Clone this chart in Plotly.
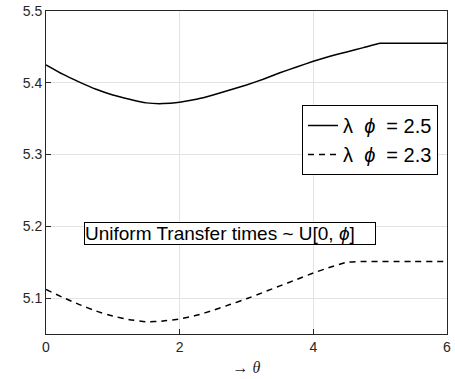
import plotly.graph_objects as go

# theta grid and the two curves
theta = [0, 0.25, 0.5, 0.75, 1.0, 1.25, 1.5, 1.75, 2.0, 2.25, 2.5, 2.75, 3.0,
         3.25, 3.5, 3.75, 4.0, 4.25, 4.5, 4.75, 5.0, 5.25, 5.5, 6.0]
cost_25 = [5.425, 5.412, 5.401, 5.391, 5.383, 5.377, 5.372, 5.371, 5.373, 5.377,
           5.383, 5.390, 5.397, 5.405, 5.414, 5.422, 5.430, 5.437, 5.443, 5.449,
           5.455, 5.455, 5.455, 5.455]
cost_23 = [5.112, 5.101, 5.091, 5.082, 5.075, 5.070, 5.067, 5.068, 5.071, 5.076,
           5.083, 5.091, 5.099, 5.108, 5.117, 5.126, 5.135, 5.143, 5.150, 5.151,
           5.151, 5.151, 5.151, 5.151]
sp = "\u00a0"
names = [f"\u03bb{sp*2}<i>\u03d5</i>{sp*2}={sp}2.5", f"\u03bb{sp*2}<i>\u03d5</i>{sp*2}={sp}2.3"]
x_ticks = [0, 2, 4, 6]
y_ticks = [5.1, 5.2, 5.3, 5.4, 5.5]

axis_col = "#262626"
grid_col = "#e3e3e3"

fig = go.Figure()
fig.add_trace(go.Scatter(x=theta, y=cost_25, mode="lines", name=names[0],
                         line=dict(color="black", width=1.5, shape="spline", smoothing=0.4)))
fig.add_trace(go.Scatter(x=theta, y=cost_23, mode="lines", name=names[1],
                         line=dict(color="black", width=1.5, dash="6px,5px",
                                   shape="spline", smoothing=0.4)))

axis_common = dict(showline=True, linecolor=axis_col, linewidth=1, mirror=True,
                   ticks="inside", ticklen=5, tickcolor=axis_col, automargin=False,
                   showgrid=True, gridcolor=grid_col, gridwidth=1, zeroline=False,
                   ticklabeloverflow="allow",
                   tickfont=dict(family="Liberation Sans, Arial", size=14, color=axis_col))

fig.update_xaxes(range=[0, 6], tickvals=x_ticks,
                 title=dict(text="\u2192 <i>\u03b8</i>", standoff=8,
                            font=dict(family="Liberation Serif, Times New Roman", size=16,
                                      color=axis_col)),
                 **axis_common)
fig.update_yaxes(range=[5.05, 5.5], tickvals=y_ticks, ticktext=[f"{v:.1f}" for v in y_ticks],
                 **axis_common)

fig.add_annotation(x=(84 - 46) / 401, y=(334 - 222) / 323, xref="paper", yref="paper",
                   xanchor="left", yanchor="top", width=290, align="left",
                   text="Uniform Transfer times ~ U[0, <i>\u03d5</i>]", showarrow=False,
                   font=dict(family="Liberation Sans, Arial", size=19, color="black"),
                   bordercolor="black", borderwidth=1, borderpad=0, bgcolor="white")

fig.update_layout(
    width=455, height=379,
    margin=dict(l=46, r=8, t=11, b=45, autoexpand=False),
    paper_bgcolor="white", plot_bgcolor="white",
    showlegend=True,
    legend=dict(x=(438 - 46) / 401, y=(334 - 105) / 323, xanchor="right", yanchor="top",
                bgcolor="white", bordercolor="black", borderwidth=1,
                itemwidth=30, tracegroupgap=0,
                font=dict(family="Liberation Sans, Arial", size=20, color="black")),
)

# drop the browser's default 8px body margin so the figure sits at the window origin
fig.write_html("out.html", config={"displayModeBar": False},
               post_script="document.body.style.margin='0';")
